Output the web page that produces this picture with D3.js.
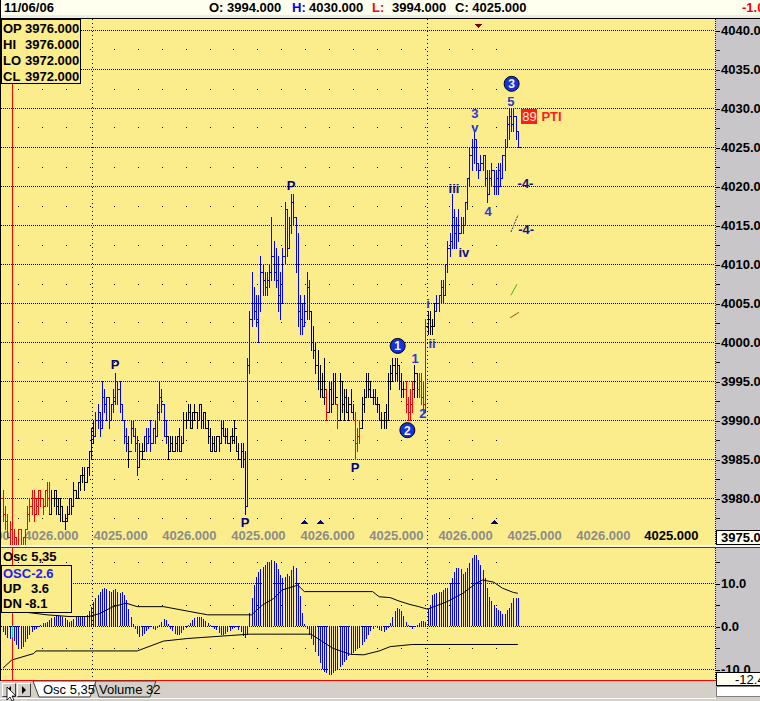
<!DOCTYPE html>
<html><head><meta charset="utf-8">
<script src="https://cdn.jsdelivr.net/npm/d3@7"></script>
<style>
body{margin:0;background:#d4d0c8;}
svg{display:block;font-family:"Liberation Sans",Arial,sans-serif;}
</style></head><body>
<svg id="c" width="760" height="701"></svg>
<script>
// ---------------- DATA ----------------
const high = [
3981,3979,3978,3977,3976,3976,3975,3976,3976,3975,3976,3979,3980,3981,3981,3980,3981,3981,3980,3981,3982,3982,
3981,3981,3981,3980,3980,3979,3978,3979,3980,3980,3982,3981,3982,3983,3984,3984,3984,3986,
3989,3990,3991,3992,3991,3995,3994,3993,3993,3992,3994,3996,3995,3995,3992,3990,3989,3988,3990,3990,3989,3988,3987,3987,3988,3989,3989,3990,3989,3990,3992,3995,3994,3992,3990,
3988,3988,3988,3988,3988,3989,3988,3991,3991,3992,3992,3991,3992,3991,3992,3992,3991,3991,3990,3989,3988,3988,3988,3988,3990,3990,3989,3989,3988,3989,3990,3988,3987,3987,3987,
3986,3998,4004,4009,4007,4006,4006,4011,4010,4009,4009,4010,4016,4013,4012,4011,4009,4012,4018,4017,4016,4019,4019,4016,4014,4006,4005,4006,4009,4008,
4004,4002,4000,3999,3997,3996,3998,3994,3995,3995,3996,3996,3992,3996,3995,3994,3994,3993,3994,3992,3991,3989,3990,3993,3994,3996,3996,3995,3994,3994,3993,3992,3991,3991,3992,3996,3997,3998,3998,3998,3997,3996,3995,3995,3993,3994,3995,3997,3996,3996,3996,3995,4003,
4004,4004,4003,4005,4006,4006,4008,4008,4010,4013,4014,4019,4017,4016,4017,4016,4016,4018,4021,4025,4026,4027,4026,4023,4024,4024,4024,4022,4022,4023,4022,4022,4023,4023,4024,4026,4029,4030,4030,4030,4029,4027];
const low = [
3977,3976,3975,3974,3972,3973,3972,3973,3974,3972,3974,3976,3977,3978,3977,3978,3978,3979,3978,3979,3979,3978,
3978,3979,3978,3978,3977,3977,3976,3977,3978,3978,3979,3980,3980,3981,3982,3981,3982,3983,
3985,3987,3988,3989,3988,3989,3991,3990,3989,3990,3991,3992,3992,3991,3990,3987,3986,3984,3987,3988,3986,3983,3984,3985,3986,3986,3987,3986,3987,3987,3988,3990,3991,3988,3987,
3985,3986,3986,3986,3986,3986,3986,3987,3989,3990,3989,3989,3990,3989,3990,3989,3989,3989,3987,3986,3986,3986,3986,3986,3987,3988,3987,3987,3986,3987,3987,3986,3985,3984,3984,
3978,3979,3996,4002,4003,4002,4000,4004,4006,4006,4006,4007,4008,4008,4007,4004,4003,4005,4010,4011,4012,4014,4015,4009,4002,4001,4001,4002,4003,4003,
3999,3998,3996,3994,3993,3993,3992,3990,3991,3991,3992,3992,3989,3990,3991,3990,3991,3990,3991,3990,3985,3986,3987,3989,3991,3993,3993,3993,3992,3992,3991,3990,3989,3989,3989,3990,3994,3995,3995,3995,3994,3993,3993,3991,3990,3990,3991,3993,3993,3993,3992,3991,3991,
4001,4001,4001,4002,4004,4004,4005,4005,4006,4009,4011,4012,4012,4012,4013,4014,4014,4015,4017,4020,4022,4023,4022,4021,4022,4022,4020,4018,4019,4020,4019,4019,4019,4020,4021,4022,4025,4026,4027,4027,4026,4025];
const open = [
3980,3978,3977,3975,3976,3973,3975,3973,3976,3974,3975,3976,3978,3979,3980,3978,3979,3981,3980,3979,3981,3980,
3978,3980,3981,3979,3978,3979,3977,3977,3978,3980,3979,3981,3980,3982,3983,3983,3982,3984,
3986,3989,3988,3990,3991,3989,3993,3992,3993,3990,3992,3993,3995,3994,3992,3990,3988,3987,3986,3989,3988,3987,3984,3986,3986,3988,3987,3988,3987,3989,3988,3991,3993,3992,3988,
3988,3986,3987,3986,3987,3988,3986,3987,3990,3990,3991,3989,3991,3991,3990,3992,3990,3991,3989,3988,3986,3987,3986,3988,3987,3989,3988,3988,3987,3988,3988,3989,3986,3985,3986,
3985,3979,3997,4003,4005,4004,4003,4005,4009,4008,4007,4008,4009,4011,4009,4008,4006,4005,4011,4017,4012,4015,4018,4016,4010,4004,4003,4002,4004,4007,
4004,4000,3999,3997,3995,3994,3993,3993,3991,3994,3992,3995,3992,3990,3995,3992,3993,3991,3992,3991,3990,3987,3988,3989,3992,3993,3995,3994,3993,3993,3992,3992,3990,3990,3991,3990,3995,3996,3997,3996,3997,3995,3994,3994,3992,3991,3992,3994,3996,3994,3995,3993,3992,
4002,4003,4002,4002,4004,4005,4006,4007,4006,4010,4012,4013,4016,4014,4015,4014,4015,4015,4018,4021,4024,4025,4026,4023,4022,4023,4024,4021,4019,4021,4022,4020,4021,4022,4021,4024,4025,4028,4029,4028,4029,4027];
const close = [
3978,3977,3975,3976,3972,3975,3973,3976,3974,3975,3976,3978,3979,3980,3978,3979,3981,3980,3979,3981,3980,3978,
3980,3981,3979,3978,3979,3977,3977,3978,3980,3979,3981,3980,3982,3983,3983,3982,3984,3986,
3989,3988,3990,3991,3989,3993,3992,3993,3990,3992,3993,3995,3994,3992,3990,3988,3987,3986,3989,3988,3987,3984,3986,3985,3988,3987,3988,3987,3989,3988,3991,3993,3992,3988,3988,
3986,3987,3986,3987,3988,3986,3987,3990,3990,3991,3989,3991,3991,3990,3992,3990,3991,3989,3988,3986,3987,3986,3988,3987,3989,3988,3988,3987,3988,3988,3989,3986,3985,3986,3985,
3979,3997,4003,4005,4004,4003,4005,4009,4008,4007,4008,4009,4011,4009,4008,4006,4005,4011,4017,4012,4015,4018,4016,4010,4004,4003,4002,4004,4007,4004,
4000,3999,3997,3995,3994,3993,3994,3991,3994,3992,3995,3993,3990,3995,3992,3993,3991,3992,3991,3990,3987,3988,3989,3992,3993,3995,3994,3993,3993,3992,3992,3990,3990,3991,3990,3995,3996,3997,3996,3997,3995,3994,3994,3992,3991,3992,3994,3996,3994,3995,3993,3992,4002,
4003,4002,4002,4004,4005,4006,4007,4006,4010,4012,4013,4016,4014,4015,4014,4015,4015,4018,4021,4024,4025,4026,4023,4022,4023,4024,4021,4019,4021,4022,4020,4021,4022,4021,4024,4025,4028,4029,4028,4029,4027,4025];
// bar trend state runs: dn (red), nt (black), up (blue)
const trendRuns = [["dn",22],["nt",20],["up",15],["nt",1],["up",4],["nt",3],["up",10],["nt",36],["up",29],["nt",7],["dn",1],["nt",4],["dn",1],["nt",7],["dn",3],["nt",20],["dn",4],["nt",2],["dn",4],["nt",4],["up",38]];
// oscillator 5,35 histogram
const osc = [
-1.5,-2.2,-2.8,-3.0,-2.6,-3.5,-4.5,-5.2,-5.4,-4.8,-3.8,-3.0,-2.2,-1.5,-1.0,-0.6,-0.3,0.3,0.6,0.8,1.0,
1.4,1.8,2.2,2.5,2.6,2.4,2.2,1.8,1.3,1.0,1.2,1.6,2.0,2.2,2.4,2.3,2.3,2.6,
3.4,4.5,5.6,6.4,7.2,7.8,8.6,8.9,8.7,8.2,8.0,8.3,8.5,8.0,7.6,7.8,7.2,6.0,4.0,2.0,
0.5,-0.8,-1.8,-2.5,-2.3,-1.8,-1.2,-0.6,-0.3,-0.8,-1.0,-0.5,0.3,1.0,1.6,1.4,0.5,-0.6,
-1.2,-1.8,-2.0,-2.0,-1.6,-1.0,-0.5,0.2,0.8,1.4,1.9,2.2,2.2,2.0,1.7,1.2,0.8,0.3,-0.2,-0.6,-1.0,
-1.6,-2.0,-2.0,-1.8,-1.5,-1.2,-0.8,-0.5,-0.3,-1.0,-1.5,-2.4,-2.8,-2.2,3.0,6.5,9.5,11.5,
12.5,13.2,13.8,14.2,14.8,15.0,15.4,15.2,14.6,13.2,11.8,11.2,11.5,12.0,11.6,13.0,14.0,13.4,10.0,7.0,
3.0,0.5,-0.8,-2.0,-3.0,-4.5,-6.0,-7.0,-8.5,-10.0,-10.6,-11.0,-11.3,-11.4,-11.0,
-10.5,-10.0,-9.5,-9.0,-8.4,-7.8,-7.0,-6.5,-6.2,-5.8,-5.4,-5.0,-4.4,-3.8,-3.0,
-2.0,-1.2,-0.6,-0.2,-0.5,-1.0,-1.2,-1.3,-1.0,-0.4,0.8,2.0,3.4,4.1,3.9,3.4,2.4,1.0,0.2,-0.3,-0.6,
-0.2,0.3,0.8,1.1,1.1,1.0,4.0,4.9,7.2,7.4,7.6,7.8,8.0,8.4,8.8,8.9,10.0,11.1,12.6,13.4,13.6,
13.3,12.2,12.6,13.4,14.6,15.7,16.4,16.5,15.3,14.2,13.0,11.1,8.8,6.8,5.7,4.9,4.1,3.7,3.5,2.9,2.9,3.7,
4.1,5.3,6.4,6.4,6.4];
const upperBand = [[0,4.2],[4,3.6],[20,2.6],[30,2.2],[39,2.2],[44,2.9],[50,4.5],[56,5.3],[61,4.5],[73,4.5],[93,2.6],[113,2.6],[118,4.9],[123,6.4],[127,8.4],[134,9.5],[137,8.0],[168,8.0],[171,6.8],[176,6.6],[180,5.8],[185,5.0],[189,4.5],[193,3.9],[202,5.7],[209,7.6],[215,9.9],[218,10.7],[223,10.2],[227,8.8],[232,7.8],[234,7.6]];
const lowerBand = [[0,-9.8],[4,-7.9],[14,-6.4],[15,-5.8],[61,-5.8],[73,-3.5],[84,-2.9],[112,-1.9],[140,-1.9],[150,-5.2],[158,-6.6],[164,-6.7],[171,-5.8],[176,-4.8],[186,-4.3],[234,-4.3]];
// axis ticks
const priceTicks = [3980,3985,3990,3995,4000,4005,4010,4015,4020,4025,4030,4035,4040];
const priceMinor = [3977.5,3982.5,3987.5,3992.5,3997.5,4002.5,4007.5,4012.5,4017.5,4022.5,4027.5,4032.5,4037.5];
const oscTicks = [10,0,-10];
const oscMinor = [15,5,-5];
const xTickBars = [-9.5,21.8,53.2,84.5,115.9,147.3,178.6,210.0,241.4,272.7,303.6];
const xTickLabels = ["4025.000","4026.000","4025.000","4026.000","4025.000","4026.000","4025.000","4026.000","4025.000","4026.000","4025.000"];
const sessionBreaks = [40.5, 192.8];
const cursorBar = 4;
const infoRows = [["OP","3976.000"],["HI","3976.000"],["LO","3972.000"],["CL","3972.000"]];
const header = {date:"11/06/06", O:"3994.000", H:"4030.000", L:"3994.000", C:"4025.000", chg:"-1.0"};
// annotations (bar index, price)
const pLabels = [{bar:51,at:"high"},{bar:131,at:"high"},{bar:110,at:"low"},{bar:160,at:"low"}];
const waveLabels = [
 {t:"3",bar:214.5,p:4029.4,c:"m"},{t:"v",bar:214.5,p:4027.6,c:"m"},{t:"5",bar:230.9,p:4030.9,c:"m"},
 {t:"iii",bar:205,p:4019.8,c:"d"},{t:"iv",bar:209.5,p:4011.6,c:"d"},{t:"4",bar:220.5,p:4016.8,c:"m"},
 {t:"-4-",bar:237.5,p:4020.4,c:"d"},{t:"-4-",bar:237.8,p:4014.5,c:"d"},
 {t:"1",bar:187.3,p:3998.0,c:"m"},{t:"2",bar:190.9,p:3990.9,c:"m"},
 {t:"i",bar:193.2,p:4005.0,c:"m"},{t:"ii",bar:195,p:3999.9,c:"m"}];
const circles = [{t:"3",bar:231.2,p:4033.1},{t:"1",bar:179.4,p:3999.5},{t:"2",bar:183.8,p:3988.7}];
const upMarkers = [137,144,223];
const downMarkers = [216];
const pti = {val:"89", txt:"PTI", bar:239.3, p:4029.0};
const trendMarks = [
 {a:[230.9,4014.1],b:[234.1,4016.3],c:"#303090",dash:"2,1"},
 {a:[230.9,4006.0],b:[233.6,4007.4],c:"#40b040",dash:null},
 {a:[230.5,4003.1],b:[234.5,4003.8],c:"#b04020",dash:null}];

// ---------------- DRAW ----------------
const svg = d3.select("#c");
const N = high.length;
const YEL = "#fbec8c", GRAY = "#c8c6c8";
const x = d3.scaleLinear().domain([0, N]).range([3, 3 + 2.2 * N]);
const y = d3.scaleLinear().domain([3975, 4040]).range([537, 30]);
const yo = d3.scaleLinear().domain([-10, 10]).range([669, 583]);
const X0 = i => Math.round(x(i));
const Y0 = v => Math.round(y(v));
const trend = [];
trendRuns.forEach(([s, n]) => { for (let k = 0; k < n; k++) trend.push(s); });
const tColor = {dn:"#ff0000", nt:"#000000", up:"#0000ff"};

// backgrounds
svg.append("rect").attr("width",760).attr("height",701).attr("fill","#d4d0c8");
svg.append("rect").attr("x",0).attr("y",0).attr("width",760).attr("height",15).attr("fill","#fffff0");
svg.append("rect").attr("x",0).attr("y",15).attr("width",760).attr("height",3).attr("fill","#ecebe4");
svg.append("rect").attr("x",0).attr("y",0).attr("width",1).attr("height",18).attr("fill","#000");
svg.append("rect").attr("x",0).attr("y",18).attr("width",760).attr("height",1).attr("fill","#000");
svg.append("rect").attr("x",1).attr("y",19).attr("width",715).attr("height",526).attr("fill",YEL);
svg.append("rect").attr("x",716).attr("y",19).attr("width",44).attr("height",526).attr("fill",GRAY);
svg.append("rect").attr("x",0).attr("y",545).attr("width",760).attr("height",3).attr("fill","#f4f4f0");
svg.append("rect").attr("x",0).attr("y",547).attr("width",760).attr("height",1).attr("fill","#404040");
svg.append("rect").attr("x",1).attr("y",548).attr("width",715).attr("height",132).attr("fill",YEL);
svg.append("rect").attr("x",716).attr("y",548).attr("width",44).attr("height",133).attr("fill",GRAY);
svg.append("rect").attr("x",0).attr("y",19).attr("width",1).attr("height",662).attr("fill","#000");
svg.append("rect").attr("x",1).attr("y",680).attr("width",715).attr("height",1).attr("fill","#ff0000");

// header text
const ht = svg.append("g").attr("font-size",13).attr("font-weight","bold");
ht.append("text").attr("x",4).attr("y",12).text(header.date);
ht.append("text").attr("x",209).attr("y",12).text("O: " + header.O);
ht.append("text").attr("x",292).attr("y",12).attr("fill","#0000ff").text("H:");
ht.append("text").attr("x",309).attr("y",12).text(header.H);
ht.append("text").attr("x",372).attr("y",12).attr("fill","#ff0000").text("L:");
ht.append("text").attr("x",392).attr("y",12).text(header.L);
ht.append("text").attr("x",455).attr("y",12).text("C: " + header.C);
ht.append("text").attr("x",742).attr("y",12).attr("fill","#ff0000").text(header.chg);

// clip paths
svg.append("clipPath").attr("id","cm").append("rect").attr("x",1).attr("y",19).attr("width",714).attr("height",526);
svg.append("clipPath").attr("id","co").append("rect").attr("x",1).attr("y",548).attr("width",714).attr("height",132);
const gm = svg.append("g").attr("clip-path","url(#cm)").attr("shape-rendering","crispEdges");
const go = svg.append("g").attr("clip-path","url(#co)").attr("shape-rendering","crispEdges");

// main grid
gm.selectAll(".hg").data(priceTicks).join("line")
  .attr("x1",1).attr("x2",715).attr("y1",d=>Y0(d)+0.5).attr("y2",d=>Y0(d)+0.5)
  .attr("stroke","#000").attr("stroke-dasharray","1,1");
const cols = d3.range(18.3, 500, 23.9);
priceMinor.forEach(p => cols.forEach(cx => gm.append("rect").attr("x",Math.round(cx)).attr("y",Y0(p)).attr("width",1).attr("height",1).attr("fill","#000")));
sessionBreaks.forEach(b => {
  gm.append("line").attr("x1",X0(b)+0.5).attr("x2",X0(b)+0.5).attr("y1",19).attr("y2",545).attr("stroke","#000").attr("stroke-dasharray","1,3");
  go.append("line").attr("x1",X0(b)+0.5).attr("x2",X0(b)+0.5).attr("y1",548).attr("y2",680).attr("stroke","#000").attr("stroke-dasharray","1,3");
});
svg.append("line").attr("x1",715.5).attr("x2",715.5).attr("y1",19).attr("y2",545).attr("stroke","#000").attr("stroke-dasharray","1,1").attr("shape-rendering","crispEdges");
svg.append("line").attr("x1",715.5).attr("x2",715.5).attr("y1",548).attr("y2",680).attr("stroke","#000").attr("stroke-dasharray","1,1").attr("shape-rendering","crispEdges");

// x labels
const xa = d3.axisBottom(x).tickValues(xTickBars).tickSize(0).tickPadding(0).tickFormat((d,i)=>xTickLabels[i]);
const xg = gm.append("g").attr("transform","translate(0,530)").call(xa);
xg.select(".domain").remove();
xg.selectAll("text").attr("font-size",13).attr("font-weight","bold").attr("font-family","Liberation Sans, Arial")
  .attr("fill",(d,i)=> i===xTickLabels.length-1 ? "#000" : "#8c8c8c").attr("dy","0.78em");

// cursor line
gm.append("line").attr("x1",X0(cursorBar)+0.5).attr("x2",X0(cursorBar)+0.5).attr("y1",19).attr("y2",545).attr("stroke","#ff0000");

// price bars
gm.selectAll(".bar").data(d3.range(N)).join("path")
  .attr("fill","none").attr("stroke",i=>tColor[trend[i]]).attr("stroke-width",1)
  .attr("d", i => {
    const X = X0(i);
    return `M${X+0.5},${Y0(high[i])}V${Y0(low[i])+1}` +
           `M${X-2},${Y0(open[i])+0.5}H${X+1}` +
           `M${X},${Y0(close[i])+0.5}H${X+3}`;
  });

// markers
gm.selectAll(".um").data(upMarkers).join("path").attr("fill","#000080")
  .attr("d", b => { const X = X0(b)+0.5; return `M${X-4},524L${X+4},524L${X},519.5Z`; });
gm.selectAll(".dm").data(downMarkers).join("path").attr("fill","#800000")
  .attr("d", b => { const X = X0(b)+0.5; return `M${X-4},23.5L${X+4},23.5L${X},28Z`; });

// P labels
gm.selectAll(".pl").data(pLabels).join("text")
  .attr("x", d => x(d.bar)).attr("text-anchor","middle")
  .attr("y", d => d.at==="high" ? y(high[d.bar]) - 4 : y(low[d.bar]) + 13)
  .attr("font-size",13).attr("font-weight","bold").attr("fill","#000080").text("P");

// wave labels
gm.selectAll(".wl").data(waveLabels).join("text")
  .attr("x", d => x(d.bar)).attr("y", d => y(d.p) + 5).attr("text-anchor","middle")
  .attr("font-size",13).attr("font-weight","bold")
  .attr("fill", d => d.c==="d" ? "#10108c" : "#2a3ad8").text(d => d.t);

// trend marks
gm.selectAll(".tm").data(trendMarks).join("line")
  .attr("x1",d=>x(d.a[0])).attr("y1",d=>y(d.a[1])).attr("x2",d=>x(d.b[0])).attr("y2",d=>y(d.b[1]))
  .attr("stroke",d=>d.c).attr("stroke-dasharray",d=>d.dash).attr("shape-rendering","auto");

// circles
const cg = gm.selectAll(".ci").data(circles).join("g").attr("transform", d => `translate(${x(d.bar)},${y(d.p)})`);
cg.append("circle").attr("r",7.5).attr("fill","#1530e6").attr("stroke","#000").attr("shape-rendering","auto");
cg.append("text").attr("text-anchor","middle").attr("y",4.5).attr("font-size",12).attr("font-weight","bold").attr("fill","#fff6c8").text(d=>d.t);

// PTI
gm.append("rect").attr("x",x(pti.bar)-8).attr("y",y(pti.p)-7).attr("width",16).attr("height",15).attr("fill","#ff1c1c");
gm.append("text").attr("x",x(pti.bar)).attr("y",y(pti.p)+5).attr("text-anchor","middle").attr("font-size",13).attr("fill","#fff0c0").text(pti.val);
gm.append("text").attr("x",x(pti.bar)+12).attr("y",y(pti.p)+5).attr("font-size",13).attr("font-weight","bold").attr("fill","#ff1c1c").text(pti.txt);

// info box
const ib = svg.append("g");
ib.append("rect").attr("x",1.5).attr("y",19.5).attr("width",79).attr("height",64).attr("fill",YEL).attr("stroke","#000");
infoRows.forEach((r,k) => {
  ib.append("text").attr("x",3).attr("y",33+k*16).attr("font-size",13).attr("font-weight","bold").text(r[0]);
  ib.append("text").attr("x",25).attr("y",33+k*16).attr("font-size",13).attr("font-weight","bold").text(r[1]);
});

// price axis
const pa = svg.append("g").attr("transform","translate(716,0.5)")
  .call(d3.axisRight(y).tickValues(priceTicks).tickSize(4).tickPadding(1).tickFormat(d=>d.toFixed(1)));
pa.select(".domain").remove();
pa.selectAll("line").attr("stroke","#000").attr("shape-rendering","crispEdges");
pa.selectAll("text").attr("font-size",13).attr("font-weight","bold").attr("font-family","Liberation Sans, Arial").attr("fill","#000");
const pm = svg.append("g").attr("transform","translate(716,0.5)")
  .call(d3.axisRight(y).tickValues(priceMinor).tickSize(4).tickFormat(""));
pm.select(".domain").remove();
pm.selectAll("line").attr("stroke","#000").attr("shape-rendering","crispEdges");
svg.append("rect").attr("x",716.5).attr("y",530.5).attr("width",44).attr("height",14).attr("fill","#fffff0").attr("stroke","#000");
svg.append("text").attr("x",721).attr("y",542).attr("font-size",13).attr("font-weight","bold").text((3975).toFixed(1));

// ---- oscillator panel ----
go.selectAll(".og").data(oscTicks).join("line")
  .attr("x1",1).attr("x2",715).attr("y1",d=>Math.round(yo(d))+0.5).attr("y2",d=>Math.round(yo(d))+0.5)
  .attr("stroke","#000").attr("stroke-dasharray","1,1");
oscMinor.forEach(v => cols.forEach(cx => go.append("rect").attr("x",Math.round(cx)).attr("y",Math.round(yo(v))).attr("width",1).attr("height",1).attr("fill","#000")));
go.selectAll(".hb").data(osc).join("line")
  .attr("x1",(d,i)=>X0(i)+0.5).attr("x2",(d,i)=>X0(i)+0.5)
  .attr("y1",Math.round(yo(0))).attr("y2",d=>Math.round(yo(d)))
  .attr("stroke","#0000ff");
const bl = d3.line().x(d=>x(d[0])).y(d=>yo(d[1]));
go.append("path").attr("d",bl(upperBand)).attr("fill","none").attr("stroke","#000").attr("shape-rendering","auto");
go.append("path").attr("d",bl(lowerBand)).attr("fill","none").attr("stroke","#000").attr("shape-rendering","auto");
go.append("line").attr("x1",X0(cursorBar)+0.5).attr("x2",X0(cursorBar)+0.5).attr("y1",548).attr("y2",680).attr("stroke","#ff0000");
go.append("line").attr("x1",X0(cursorBar)+0.5).attr("x2",X0(cursorBar)+0.5).attr("y1",Math.round(yo(0))).attr("y2",Math.round(yo(osc[cursorBar]))).attr("stroke","#20e060");

const ot = svg.append("g").attr("font-size",13).attr("font-weight","bold");
ot.append("text").attr("x",3).attr("y",561).text("Osc 5,35");
ot.append("rect").attr("x",1.5).attr("y",565.5).attr("width",70).attr("height",47).attr("fill",YEL).attr("stroke","#000");
ot.append("text").attr("x",3).attr("y",578).attr("fill","#1a1aff").text("OSC" + osc[cursorBar].toFixed(1));
ot.append("text").attr("x",3).attr("y",593).text("UP");
ot.append("text").attr("x",31).attr("y",593).text((3.6).toFixed(1));
ot.append("text").attr("x",3).attr("y",608).text("DN");
ot.append("text").attr("x",25).attr("y",608).text((-8.1).toFixed(1));

const oa = svg.append("g").attr("transform","translate(716,0.5)")
  .call(d3.axisRight(yo).tickValues(oscTicks).tickSize(4).tickPadding(1).tickFormat(d=>d.toFixed(1)));
oa.select(".domain").remove();
oa.selectAll("line").attr("stroke","#000").attr("shape-rendering","crispEdges");
oa.selectAll("text").attr("font-size",13).attr("font-weight","bold").attr("font-family","Liberation Sans, Arial").attr("fill","#000");
const om = svg.append("g").attr("transform","translate(716,0.5)")
  .call(d3.axisRight(yo).tickValues(oscMinor).tickSize(4).tickFormat(""));
om.select(".domain").remove();
om.selectAll("line").attr("stroke","#000").attr("shape-rendering","crispEdges");
svg.append("rect").attr("x",716.5).attr("y",672.5).attr("width",44).attr("height",13).attr("fill","#fffff0").attr("stroke","#000");
svg.append("text").attr("x",735).attr("y",684).attr("font-size",13).text((-12.4).toFixed(1));
svg.append("rect").attr("x",716.5).attr("y",686.5).attr("width",44).attr("height",10).attr("fill","#ffffff").attr("stroke","#808080");

// ---- tab bar ----
const tb = svg.append("g");
function btn(x0, dir){
  tb.append("rect").attr("x",x0).attr("y",683).attr("width",14).attr("height",14).attr("fill","#d4d0c8");
  tb.append("path").attr("d",`M${x0+0.5},${696}V${683.5}H${x0+13.5}`).attr("stroke","#fff").attr("fill","none");
  tb.append("path").attr("d",`M${x0+0.5},${696.5}H${x0+13.5}V${683.5}`).attr("stroke","#404040").attr("fill","none");
  const cx = x0+7, cy = 690;
  tb.append("path").attr("fill","#000").attr("d", dir<0 ? `M${cx+2},${cy-4}L${cx-2},${cy}L${cx+2},${cy+4}Z` : `M${cx-2},${cy-4}L${cx+2},${cy}L${cx-2},${cy+4}Z`);
}
btn(2,-1); btn(17,1);
tb.append("path").attr("d","M94,681L156,681L150,697L99,697Z").attr("fill","#d4d0c8").attr("stroke","#404040");
tb.append("text").attr("x",99).attr("y",694).attr("font-size",13).text("Volume 32");
tb.append("path").attr("d","M33,681L96,681L90,697L39,697Z").attr("fill","#ffffff").attr("stroke","#404040");
tb.append("text").attr("x",43).attr("y",694).attr("font-size",13).text("Osc 5,35");
tb.append("rect").attr("x",0).attr("y",698).attr("width",716).attr("height",1).attr("fill","#ffffff");
tb.append("path").attr("d","M7,687L7,700L10,697L12,701L14,700L12,696L16,696Z").attr("fill","#fff").attr("stroke","#000").attr("stroke-width",0.8);
</script>
</body></html>
